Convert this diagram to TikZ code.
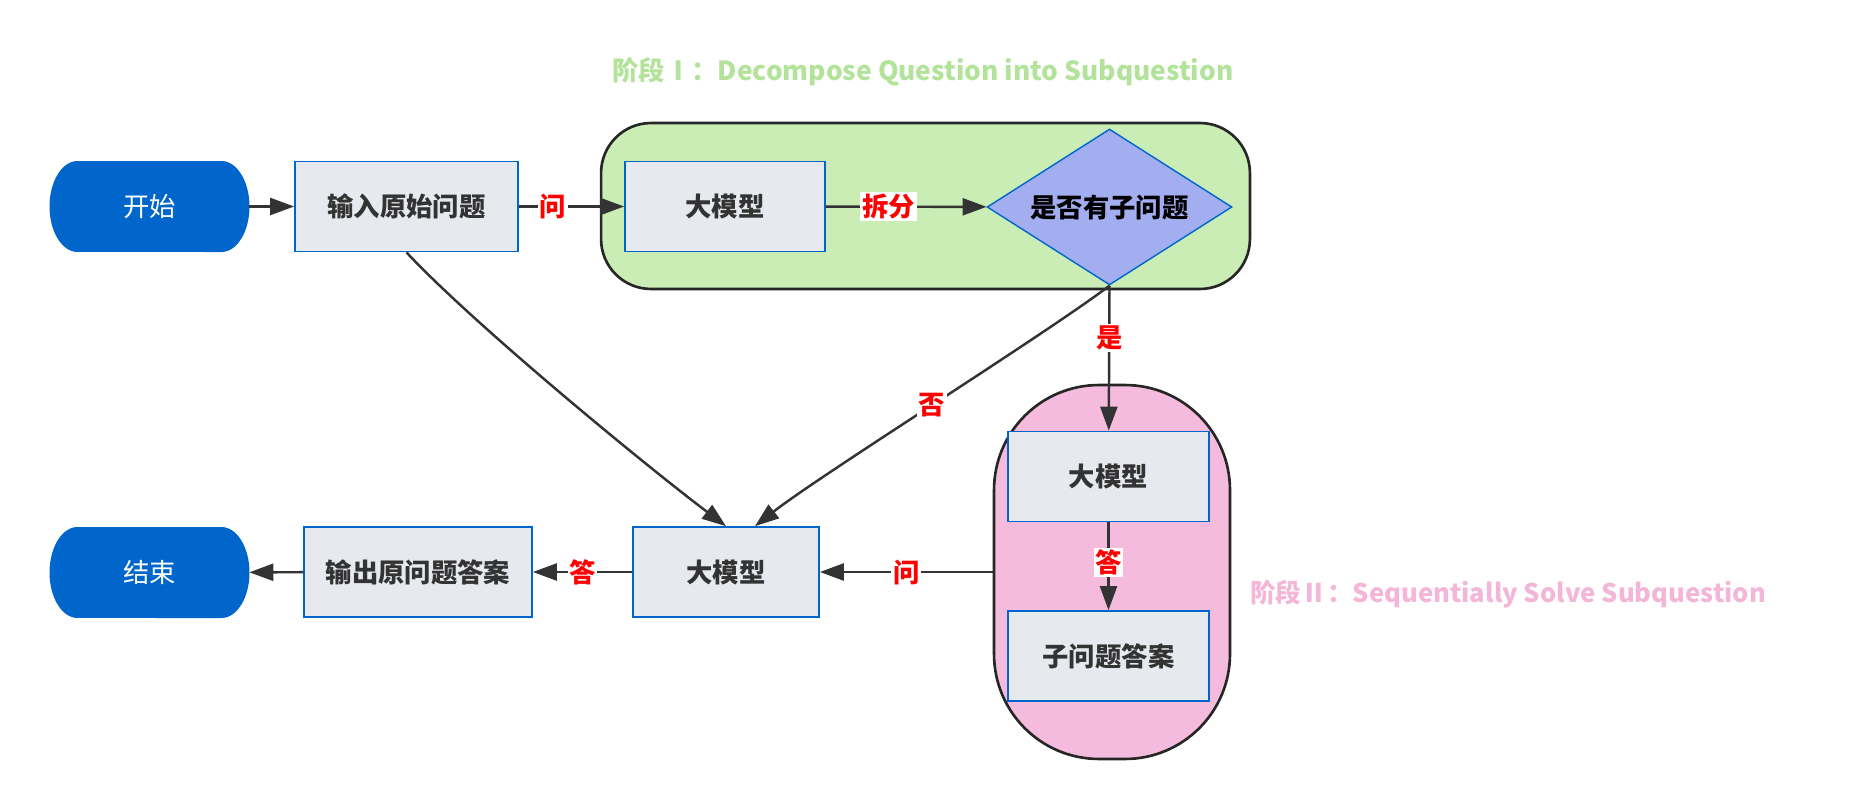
\documentclass[tikz,border=0pt]{standalone}
\usepackage{fontspec}
\setmainfont{Noto Sans CJK SC}
\usetikzlibrary{arrows.meta,shapes.geometric}

\definecolor{pillblue}{HTML}{0066CC}
\definecolor{boxgray}{HTML}{E6EAEE}
\definecolor{diafill}{HTML}{A3AEF0}
\definecolor{grpgreen}{HTML}{CAEDB6}
\definecolor{grppink}{HTML}{F5BBDC}
\definecolor{titlegreen}{HTML}{B3E39A}
\definecolor{titlepink}{HTML}{F3B6D9}
\definecolor{edgegray}{HTML}{333333}

\begin{document}
\begin{tikzpicture}[
    x=0.02cm,
    y=0.02cm,
    font=\fontsize{15}{18}\selectfont,
    pill/.style={
        text=white,
        minimum width=3.98cm,
        minimum height=1.82cm
    },
    box/.style={
        draw=pillblue,
        line width=1pt,
        fill=boxgray,
        text=black!80,
        minimum height=1.8cm,
        font=\fontsize{15}{18}\selectfont\bfseries
    },
    check/.style={
        diamond,
        aspect=1.57,
        draw=pillblue,
        line width=0.8pt,
        fill=diafill,
        inner sep=0pt,
        minimum width=4.9cm,
        minimum height=3.12cm,
        font=\fontsize{15}{18}\selectfont\bfseries
    },
    group/.style={
        draw=black!85,
        line width=1.5pt
    },
    title/.style={
        font=\fontsize{15}{18}\selectfont\bfseries
    },
    lbl/.style={
        fill=white,
        text=red,
        inner sep=1pt,
        font=\fontsize{15}{18}\selectfont\bfseries
    },
    arrow/.style={
        -{Triangle[length=0.48cm,width=0.34cm]},
        line width=1.4pt,
        draw=edgegray
    }
]
    \useasboundingbox (0,0) rectangle (1875,-811);

    % Stage I
    \node[group, fill=grpgreen, rounded corners=1cm,
          minimum width=12.98cm, minimum height=3.32cm] (grpA) at (925.5,-206) {};
    \node[title, text=titlegreen] (titleA) at (923,-72)
        {阶段Ⅰ：Decompose Question into Subquestion};

    % Stage II
    \node[group, fill=grppink, rounded corners=2.1cm,
          minimum width=4.72cm, minimum height=7.48cm] (grpB) at (1112,-572) {};
    \node[title, text=titlepink, anchor=west, font=\fontsize{14.6}{18}\selectfont\bfseries]
        (titleB) at (1244,-594) {阶段Ⅱ：Sequentially Solve Subquestion};

    % Start / end
    \foreach \n/\x/\y/\t in {
        start/149.5/-206.5/开始,
        stop/149.5/-572.5/结束
    }{
        \fill[pillblue] (\x-72,\y+45.5)
            arc[start angle=90, end angle=270, x radius=0.56cm, y radius=0.91cm]
            -- (\x+72,\y-45.5)
            arc[start angle=-90, end angle=90, x radius=0.56cm, y radius=0.91cm]
            -- cycle;
        \node[pill] (\n) at (\x,\y) {\t};
    }

    % Boxes
    \foreach \n/\x/\y/\w/\t in {
        ask/406.5/-206.5/223/输入原始问题,
        llmA/725/-206.5/200/大模型,
        llmB/1108.5/-476.5/201/大模型,
        subans/1108.5/-656/201/子问题答案,
        llmC/726/-572/186/大模型,
        answer/418/-572/228/输出原问题答案
    }{
        \node[box, minimum width=\w*0.02cm] (\n) at (\x,\y) {\t};
    }

    \node[check] (split) at (1109.5,-207) {是否有子问题};

    % Edges
    \draw[arrow] (start) -- (ask);
    \draw[arrow] (ask) -- node[lbl, pos=0.32] {问} (llmA);
    \draw[arrow] (llmA) -- node[lbl, pos=0.39] {拆分} (split);
    \draw[arrow] (split.south) -- node[lbl, pos=0.36] {是} (llmB);
    \draw[arrow] (split.south) to[out=-143, in=38, looseness=0.5]
        node[lbl] {否} ([xshift=0.58cm]llmC.north);
    \draw[arrow] (ask.south) to[out=-47, in=143, looseness=0.6] (llmC.north);
    \draw[arrow] (llmB) -- node[lbl, pos=0.46] {答} (subans);
    \draw[arrow] (grpB.west) -- node[lbl] {问} (llmC.east);
    \draw[arrow] (llmC) -- node[lbl] {答} (answer);
    \draw[arrow] (answer) -- (stop);

\end{tikzpicture}
\end{document}
